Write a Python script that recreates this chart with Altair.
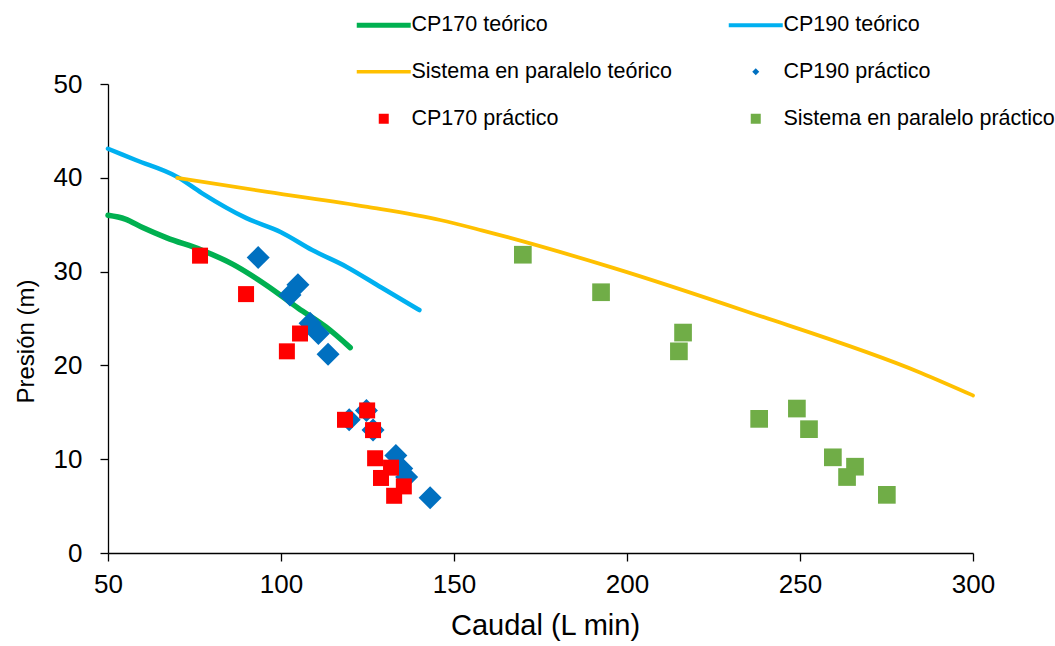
import altair as alt
import pandas as pd

# ---- data ----
series_names = ["CP170 teórico", "CP190 teórico", "Sistema en paralelo teórico",
                "CP190 práctico", "CP170 práctico", "Sistema en paralelo práctico"]
series_colors = ["#00B050", "#00B0F0", "#FFC000", "#0070C0", "#FF0000", "#70AD47"]

cp170_teo_x = [50, 55, 60, 67, 77, 86, 96, 105, 113, 120]
cp170_teo_y = [36.0, 35.6, 34.7, 33.6, 32.3, 30.8, 28.5, 26.1, 24.1, 21.9]

cp190_teo_x = [50, 58, 70, 77, 90, 100, 109, 119, 129, 140]
cp190_teo_y = [43.1, 41.9, 40.1, 38.4, 35.7, 34.2, 32.3, 30.5, 28.3, 25.9]

par_teo_x = [70, 96, 125, 146, 158, 196, 235, 285, 300]
par_teo_y = [40.0, 38.5, 36.9, 35.5, 34.4, 30.4, 25.7, 19.2, 16.8]

cp190_pra_x = [93.4, 104.9, 102.6, 108.4, 110.8, 113.6, 119.7, 124.7, 126.6, 133.2, 134.9, 136.3, 143.1]
cp190_pra_y = [31.5, 28.6, 27.5, 24.5, 23.4, 21.2, 14.2, 15.2, 13.1, 10.4, 9.0, 8.1, 5.9]

cp170_pra_x = [76.6, 89.9, 105.5, 101.7, 118.5, 124.9, 126.6, 127.2, 131.8, 128.9, 135.5, 132.7]
cp170_pra_y = [31.7, 27.6, 23.4, 21.5, 14.2, 15.2, 13.1, 10.1, 9.1, 8.0, 7.1, 6.1]

par_pra_x = [169.9, 192.5, 216.2, 215.0, 238.2, 249.1, 252.6, 259.5, 265.9, 263.6, 275.1]
par_pra_y = [31.8, 27.8, 23.5, 21.5, 14.3, 15.4, 13.2, 10.2, 9.2, 8.1, 6.2]

x_ticks = [50, 100, 150, 200, 250, 300]
y_ticks = [0, 10, 20, 30, 40, 50]


def frame(name, xs, ys):
    return pd.DataFrame({"serie": name, "caudal": xs, "presion": ys})


lines_df = pd.concat([
    frame(series_names[0], cp170_teo_x, cp170_teo_y),
    frame(series_names[1], cp190_teo_x, cp190_teo_y),
    frame(series_names[2], par_teo_x, par_teo_y),
])
points_df = pd.concat([
    frame(series_names[3], cp190_pra_x, cp190_pra_y),
    frame(series_names[4], cp170_pra_x, cp170_pra_y),
    frame(series_names[5], par_pra_x, par_pra_y),
])

# legend/marker shapes (custom paths; lines drawn as thin filled bars in the legend)
shape_range = [
    "M-5.4,-0.5L5.4,-0.5L5.4,0.5L-5.4,0.5Z",
    "M-5.4,-0.4L5.4,-0.4L5.4,0.4L-5.4,0.4Z",
    "M-5.4,-0.33L5.4,-0.33L5.4,0.33L-5.4,0.33Z",
    "M0,-0.7L0.7,0L0,0.7L-0.7,0Z",
    "square",
    "square",
]

FONT = "Liberation Sans"

x_enc = alt.X("caudal:Q", scale=alt.Scale(domain=[50, 300], nice=False),
              axis=alt.Axis(values=x_ticks, title="Caudal (L min)", titleFontSize=29,
                            titleX=437, titleY=58, labelPadding=10, labelFlush=False))
y_enc = alt.Y("presion:Q", scale=alt.Scale(domain=[0, 50], nice=False),
              axis=alt.Axis(values=y_ticks, title="Presión (m)", titleFontSize=24,
                            titleX=-70, titleY=257, labelPadding=18, labelFlush=False))

color_scale = alt.Scale(domain=series_names, range=series_colors)
shape_scale = alt.Scale(domain=series_names, range=shape_range)

legend_def = alt.Legend(
    title=None, orient="none", legendX=265, legendY=-70, columns=2,
    direction="horizontal", labelLimit=400,
    columnPadding=55, rowPadding=24, labelFontSize=21.5, labelFont=FONT,
    labelColor="black", symbolSize=100, labelOffset=17, symbolStrokeWidth=0,
    padding=0, symbolOpacity=1,
)

line_layers = []
for name, sw in zip(series_names[:3], [5.5, 4.5, 3.8]):
    line_layers.append(
        alt.Chart(lines_df).transform_filter(alt.datum.serie == name)
        .mark_line(strokeWidth=sw, strokeCap="round", interpolate="monotone")
        .encode(x=x_enc, y=y_enc,
                color=alt.Color("serie:N", scale=color_scale, legend=legend_def))
    )

marker_size = (
    alt.when(alt.datum.serie == "CP190 práctico").then(alt.value(1080))
    .when(alt.datum.serie == "CP170 práctico").then(alt.value(256))
    .otherwise(alt.value(313))
)

points = alt.Chart(points_df).mark_point(filled=True, opacity=1).encode(
    x=x_enc, y=y_enc,
    color=alt.Color("serie:N", scale=color_scale, legend=legend_def),
    shape=alt.Shape("serie:N", scale=shape_scale, legend=legend_def),
    size=marker_size,
)

chart = alt.layer(*line_layers, points).properties(
    width=865, height=469,
    autosize=alt.AutoSizeParams(type="none"),
    padding={"left": 108, "top": 84, "right": 82, "bottom": 93},
).configure_view(stroke=None).configure_axis(
    grid=False, domainColor="black", tickColor="black", domainWidth=1.3,
    tickWidth=1.3, tickSize=8, labelFontSize=26, labelFont=FONT, titleFont=FONT,
    labelColor="black", titleColor="black", titleFontWeight="normal",
)

chart.save("out.html", embed_options={"renderer": "svg", "actions": False})
